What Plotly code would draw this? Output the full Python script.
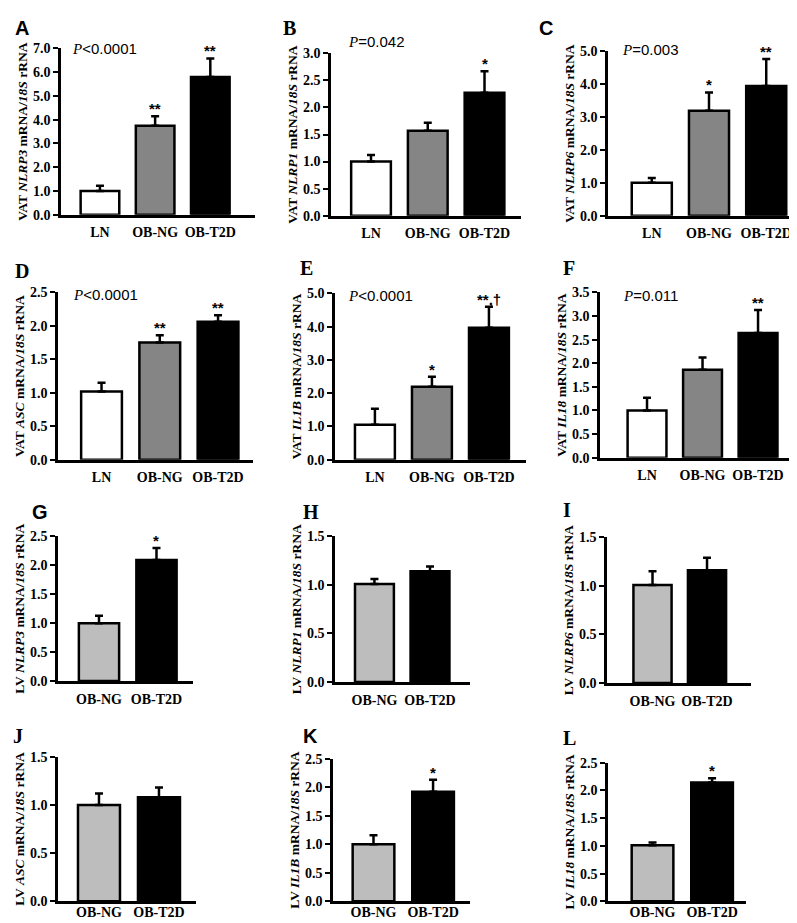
import plotly.graph_objects as go

# ---------------- data ----------------
vat_groups = ["LN", "OB-NG", "OB-T2D"]
lv_groups = ["OB-NG", "OB-T2D"]

A_mean = [1.0, 3.75, 5.8];  A_err = [0.22, 0.40, 0.78]; A_sig = ["", "**", "**"]
B_mean = [1.0, 1.57, 2.27]; B_err = [0.12, 0.15, 0.40]; B_sig = ["", "", "*"]
C_mean = [1.0, 3.19, 3.95]; C_err = [0.15, 0.56, 0.82]; C_sig = ["", "*", "**"]
D_mean = [1.02, 1.75, 2.06]; D_err = [0.13, 0.11, 0.10]; D_sig = ["", "**", "**"]
E_mean = [1.05, 2.19, 3.97]; E_err = [0.48, 0.30, 0.63]; E_sig = ["", "*", "**,\u2020"]
F_mean = [1.0, 1.86, 2.64]; F_err = [0.27, 0.26, 0.49]; F_sig = ["", "", "**"]
G_mean = [1.0, 2.09]; G_err = [0.13, 0.21]; G_sig = ["", "*"]
H_mean = [1.01, 1.14]; H_err = [0.05, 0.05]; H_sig = ["", ""]
I_mean = [1.01, 1.16]; I_err = [0.14, 0.13]; I_sig = ["", ""]
J_mean = [1.0, 1.08]; J_err = [0.12, 0.10]; J_sig = ["", ""]
K_mean = [1.0, 1.92]; K_err = [0.16, 0.21]; K_sig = ["", "*"]
L_mean = [1.01, 2.14]; L_err = [0.05, 0.08]; L_sig = ["", "*"]

A_p = "&lt;0.0001"; B_p = "=0.042"; C_p = "=0.003"
D_p = "&lt;0.0001"; E_p = "&lt;0.0001"; F_p = "=0.011"

genes = ["NLRP3", "NLRP1", "NLRP6", "ASC", "IL1B", "IL18",
         "NLRP3", "NLRP1", "NLRP6", "ASC", "IL1B", "IL18"]
tissues = ["VAT"] * 6 + ["LV"] * 6
letters = list("ABCDEFGHIJKL")

means = [A_mean, B_mean, C_mean, D_mean, E_mean, F_mean,
         G_mean, H_mean, I_mean, J_mean, K_mean, L_mean]
errs = [A_err, B_err, C_err, D_err, E_err, F_err,
        G_err, H_err, I_err, J_err, K_err, L_err]
sigs = [A_sig, B_sig, C_sig, D_sig, E_sig, F_sig,
        G_sig, H_sig, I_sig, J_sig, K_sig, L_sig]
pvals = [A_p, B_p, C_p, D_p, E_p, F_p] + [None] * 6

vat_colors = ["#ffffff", "#858585", "#000000"]
lv_colors = ["#bdbdbd", "#000000"]

# ---------------- layout (pixel geometry) ----------------
W, H = 797, 923
# x0, x1 (axis px), y_top, y_bottom (px), y max, dtick, x range
geom = [
    (53, 247, 34, 203, 7.0, 1.0, [-0.706, 2.81]),
    (323, 513, 39, 204, 3.0, 0.5, [-0.705, 2.643]),
    (600, 796, 37, 204, 5.0, 1.0, [-0.765, 2.66]),
    (50, 245, 282, 452, 2.5, 0.5, [-0.747, 2.6]),
    (327, 518, 283, 452, 5.0, 1.0, [-0.70, 2.65]),
    (592, 795, 282, 450, 3.5, 0.5, [-0.847, 2.81]),
    (50, 185, 530, 677, 2.5, 0.5, [-0.713, 1.635]),
    (327, 462, 530, 678, 1.5, 0.5, [-0.71, 1.72]),
    (599, 743, 531, 679, 1.5, 0.5, [-0.835, 1.807]),
    (50, 188, 754, 901, 1.5, 0.5, [-0.683, 1.617]),
    (325, 462, 756, 901, 2.5, 0.5, [-0.68, 1.62]),
    (600, 738, 760, 901, 2.5, 0.5, [-0.748, 1.57]),
]
label_standoff = [3] * 9 + [-4] * 3
# panel letter positions (px) and P-value text positions (px)
letter_pos = [(5, 13), (273, 13), (529, 13), (5, 260), (290, 257), (553, 257),
              (22, 505), (293, 505), (553, 503), (3, 733), (293, 733), (553, 735)]
letter_sans = [True, False, True, False, False, False,
               True, False, False, False, True, False]
p_pos = [(62, 34), (338, 27), (612, 35), (63, 284), (338, 285), (613, 285)]

SERIF = "Liberation Serif"
SANS = "Liberation Sans"

fig = go.Figure()
annotations = []
layout_axes = {}

for i in range(12):
    x0, x1, yt, yb, ymax, dt, xr = geom[i]
    groups = vat_groups if i < 6 else lv_groups
    colors = vat_colors if i < 6 else lv_colors
    n = str(i + 1) if i > 0 else ""
    xa, ya = "x" + n, "y" + n
    fig.add_trace(go.Bar(
        x=groups, y=means[i], xaxis=xa, yaxis=ya, width=0.7,
        marker=dict(color=colors, line=dict(color="black", width=2.5)),
        error_y=dict(type="data", symmetric=False, array=errs[i],
                     arrayminus=[0] * len(groups), color="black",
                     thickness=2.5, width=4),
        showlegend=False, hoverinfo="skip",
    ))
    title = f"<b>{tissues[i]} <i>{genes[i]}</i> mRNA/<i>18S</i> rRNA</b>"
    layout_axes["xaxis" + n] = dict(
        domain=[x0 / W, x1 / W], anchor=ya, range=xr, type="category",
        showline=True, linecolor="black", linewidth=2.5, ticks="",
        showgrid=False, zeroline=False, fixedrange=True,
        tickfont=dict(family=SERIF, size=14, color="black", weight="bold"),
        ticklabelstandoff=label_standoff[i],
    )
    layout_axes["yaxis" + n] = dict(
        domain=[1 - yb / H, 1 - yt / H], anchor=xa, range=[0, ymax],
        dtick=dt, tick0=0, tickformat=".1f",
        showline=True, linecolor="black", linewidth=2.5,
        ticks="outside", ticklen=5, tickwidth=2, tickcolor="black",
        showgrid=False, zeroline=False,
        tickfont=dict(family=SERIF, size=14, color="black", weight="bold"),
        title=dict(text=title, font=dict(family=SERIF, size=13.5, color="black"),
                   standoff=3),
    )
    # significance marks
    for g, m, e, s in zip(groups, means[i], errs[i], sigs[i]):
        if s:
            annotations.append(dict(
                x=g, y=m + e, xref=xa, yref=ya, text=f"<b>{s}</b>",
                showarrow=False, yanchor="bottom", yshift=-3,
                font=dict(family=SANS, size=15, color="black")))
    # panel letters
    lx, ly = letter_pos[i]
    annotations.append(dict(
        x=lx / W, y=1 - ly / H, xref="paper", yref="paper",
        text=f"<b>{letters[i]}</b>", showarrow=False,
        xanchor="left", yanchor="middle",
        font=dict(family=SANS if letter_sans[i] else SERIF, size=20, color="black")))
    # P values
    if pvals[i] is not None:
        px_, py_ = p_pos[i]
        annotations.append(dict(
            x=px_ / W, y=1 - py_ / H, xref="paper", yref="paper",
            text=f"<span style='font-family:{SERIF}'><i>P</i></span>{pvals[i]}",
            showarrow=False, xanchor="left", yanchor="middle",
            font=dict(family=SANS, size=15, color="black")))

fig.update_layout(
    width=W, height=H, margin=dict(l=0, r=0, t=0, b=0),
    paper_bgcolor="white", plot_bgcolor="white",
    annotations=annotations, bargap=0.3, **layout_axes,
)

fig.write_html("out.html")
